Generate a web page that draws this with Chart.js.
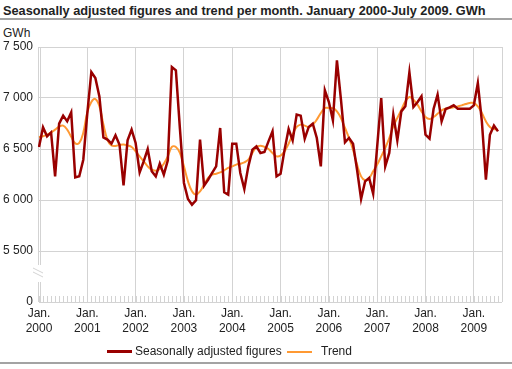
<!DOCTYPE html>
<html lang="en">
<head>
    <meta charset="UTF-8">
    <title>Seasonally adjusted figures and trend per month</title>
    <script src="https://cdn.jsdelivr.net/npm/chart.js"></script>
    <style>
        body {
            margin: 0;
            width: 512px;
            height: 369px;
            position: relative;
            background: #fff;
            font-family: Arial, "Liberation Sans", sans-serif;
            color: #222;
            overflow: hidden;
        }
        .title {
            position: absolute;
            left: 3px;
            top: 3px;
            font-size: 12.75px;
            font-weight: bold;
            white-space: nowrap;
        }
        .rule {
            position: absolute;
            left: 0;
            width: 512px;
            height: 2px;
            background: #a3a3a3;
        }
        .unit {
            position: absolute;
            left: 3px;
            top: 26px;
            font-size: 12px;
        }
        canvas {
            position: absolute;
            left: 0;
            top: 0;
        }
        .legend {
            position: absolute;
            top: 344px;
            font-size: 12px;
            white-space: nowrap;
        }
        .legend span.swatch {
            display: inline-block;
            width: 25px;
            height: 2px;
            vertical-align: middle;
            margin-right: 3px;
        }
    </style>
</head>
<body>
    <div class="title">Seasonally adjusted figures and trend per month. January 2000-July 2009. GWh</div>
    <div class="rule" style="top:18px"></div>
    <div class="unit">GWh</div>
    <canvas id="chart" width="512" height="369"></canvas>
    <div class="legend" style="left:107px"><span class="swatch" style="background:#990000;height:3px"></span>Seasonally adjusted figures</div>
    <div class="legend" style="left:287px"><span class="swatch" style="background:#ff9933;margin-right:9px"></span>Trend</div>
    <div class="rule" style="top:362px"></div>

    <script>
        // monthly values, Jan 2000 - Jul 2009 (GWh)
        const adjusted = [
            6520, 6712, 6624, 6663, 6232, 6748, 6827, 6771, 6859, 6222, 6232, 6395,
            6850, 7255, 7196, 7016, 6614, 6592, 6552, 6634, 6542, 6144, 6585, 6690,
            6559, 6271, 6379, 6500, 6281, 6232, 6356, 6248, 6389, 7304, 7271, 6700,
            6167, 6010, 5954, 5997, 6592, 6141, 6199, 6265, 6330, 6706, 6075, 6052,
            6552, 6552, 6265, 6108, 6330, 6494, 6526, 6461, 6471, 6575, 6673, 6232,
            6258, 6494, 6696, 6585, 6837, 6827, 6601, 6716, 6748, 6608, 6330, 7075,
            6960, 6781, 7369, 6984, 6565, 6608, 6552, 6297, 6010, 6183, 6216, 6062,
            6526, 7000, 6330, 6461, 6837, 6585, 6869, 6918, 7252, 6912, 6958, 7016,
            6640, 6601, 6892, 7033, 6771, 6892, 6908, 6928, 6895, 6895, 6895, 6895,
            6928, 7147, 6771, 6199, 6640, 6729, 6673
        ];
        const trend = [
            6618, 6625, 6640, 6660, 6690, 6720, 6729, 6690, 6620, 6555, 6560, 6660,
            6860, 6960, 6990, 6920, 6740, 6590, 6535, 6530, 6540, 6545, 6535, 6520,
            6477, 6428, 6379, 6330, 6297, 6288, 6304, 6356, 6428, 6520, 6520, 6461,
            6330, 6183, 6085, 6052, 6085, 6150, 6216, 6248, 6258, 6271, 6291, 6314,
            6330, 6347, 6356, 6369, 6395, 6461, 6520, 6533, 6520, 6500, 6461, 6428,
            6435, 6477, 6552, 6641, 6716, 6739, 6729, 6716, 6739, 6788, 6853, 6902,
            6902, 6900, 6869, 6804, 6706, 6608, 6494, 6347, 6232, 6193, 6216, 6281,
            6347, 6428, 6510, 6608, 6722, 6804, 6886, 6967, 7010, 6984, 6935, 6869,
            6814, 6794, 6814, 6846, 6879, 6895, 6902, 6908, 6918, 6928, 6941, 6951,
            6951, 6918, 6853, 6771, 6716, 6696, 6690
        ];
        const firstYear = 2000;
        const yTicks = [5000, 5500, 6000, 6500, 7000, 7500];
        const yTickLabels = ['0', '5 500', '6 000', '6 500', '7 000', '7 500'];

        // one label per month, plus one extra slot so the plot ends just after July 2009
        const months = [];
        for (let i = 0; i <= adjusted.length; i++) {
            months.push((firstYear + Math.floor(i / 12)) + '-' + (i % 12 + 1));
        }

        const gridColor = '#d3d3d3';

        // left axis with break, and small month ticks on the bottom axis
        const axisDecor = {
            id: 'axisDecor',
            beforeDatasetsDraw(chart) {
                const ctx = chart.ctx;
                const area = chart.chartArea;
                const x = chart.scales.x;
                const y = chart.scales.y;
                const bottom = Math.round(y.getPixelForValue(5000));
                const breakTop = Math.round(y.getPixelForValue(5500)) + 14;
                const breakBottom = breakTop + 17;
                ctx.save();
                ctx.strokeStyle = gridColor;
                ctx.lineWidth = 1;
                ctx.beginPath();
                for (let i = 0; i < months.length; i++) {
                    const px = Math.round(x.getPixelForValue(i)) + 0.5;
                    ctx.moveTo(px, bottom - 6);
                    ctx.lineTo(px, bottom);
                }
                const l = Math.round(area.left);
                [l - 0.5, l + 1.5].forEach(px => {
                    ctx.moveTo(px, area.top);
                    ctx.lineTo(px, breakTop);
                    ctx.moveTo(px, breakBottom);
                    ctx.lineTo(px, bottom);
                });
                ctx.stroke();
                ctx.beginPath();
                ctx.moveTo(l - 6, breakTop + 3);
                ctx.lineTo(l + 4, breakTop + 8);
                ctx.moveTo(l - 6, breakTop + 7);
                ctx.lineTo(l + 4, breakTop + 12);
                ctx.stroke();
                ctx.restore();
            }
        };

        new Chart(document.getElementById('chart'), {
            type: 'line',
            data: {
                labels: months,
                datasets: [{
                    label: 'Seasonally adjusted figures',
                    data: adjusted,
                    borderColor: '#990000',
                    borderWidth: 2.5,
                    pointRadius: 0,
                    tension: 0,
                    fill: false
                }, {
                    label: 'Trend',
                    data: trend,
                    borderColor: '#ff9933',
                    borderWidth: 2,
                    pointRadius: 0,
                    tension: 0.4,
                    fill: false
                }]
            },
            options: {
                responsive: false,
                animation: false,
                layout: { padding: { top: 47, right: 10, bottom: 30, left: 0 } },
                plugins: {
                    legend: { display: false },
                    tooltip: { enabled: false }
                },
                scales: {
                    x: {
                        type: 'category',
                        offset: false,
                        afterFit(scale) { scale.height = 37; },
                        border: { display: false },
                        grid: {
                            drawTicks: false,
                            color: c => (c.index > 0 && (c.index % 12 === 0 || c.index === months.length - 1)) ? gridColor : 'rgba(0,0,0,0)'
                        },
                        ticks: {
                            autoSkip: false,
                            maxRotation: 0,
                            padding: 4,
                            color: '#222',
                            font: { family: 'Arial', size: 12, lineHeight: 1.25 },
                            callback: (v, i) => (i % 12 === 0 && i < adjusted.length) ? ['Jan.', String(firstYear + i / 12)] : ''
                        }
                    },
                    y: {
                        min: 5000,
                        max: 7500,
                        afterFit(scale) { scale.width = 39; },
                        afterBuildTicks(scale) { scale.ticks = yTicks.map(v => ({ value: v })); },
                        border: { display: false },
                        grid: { drawTicks: false, color: gridColor },
                        ticks: {
                            padding: 6,
                            color: '#222',
                            font: { family: 'Arial', size: 12 },
                            callback: v => yTickLabels[yTicks.indexOf(v)]
                        }
                    }
                }
            },
            plugins: [axisDecor]
        });
    </script>
</body>
</html>
